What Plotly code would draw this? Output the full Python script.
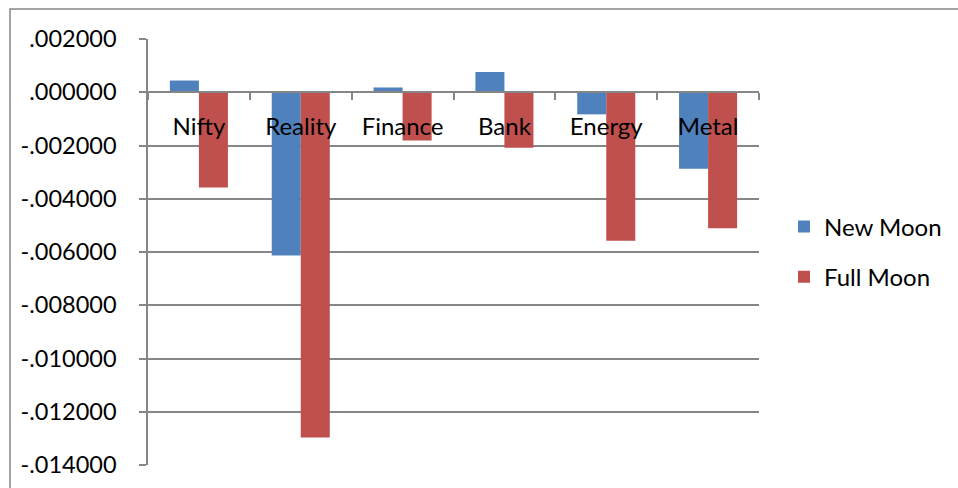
import plotly.graph_objects as go

categories = ["Nifty", "Reality", "Finance", "Bank", "Energy", "Metal"]
new_moon = [0.00044, -0.00613, 0.00018, 0.00076, -0.00083, -0.00287]
full_moon = [-0.00358, -0.01297, -0.00181, -0.00208, -0.00558, -0.00511]
y_tick_vals = [0.002, 0.0, -0.002, -0.004, -0.006, -0.008, -0.010, -0.012, -0.014]
y_tick_text = [".002000", ".000000", "-.002000", "-.004000", "-.006000",
               "-.008000", "-.010000", "-.012000", "-.014000"]

BLUE = "#4F81BD"
RED = "#C0504D"
GRID = "#868686"
FONT = "Lato"

fig = go.Figure()
fig.add_trace(go.Bar(x=categories, y=new_moon, name="New Moon",
                     marker=dict(color=BLUE, line=dict(width=0)),
                     legendgroup="a"))
fig.add_trace(go.Bar(x=categories, y=full_moon, name="Full Moon",
                     marker=dict(color=RED, line=dict(width=0)),
                     legendgroup="b"))

W, H = 958, 488
L, R, T, B = 148, 199, 39, 23
pw, ph = W - L - R, H - T - B
zero_pos = (0 - (-0.014)) / 0.016

fig.update_layout(
    width=W, height=H,
    margin=dict(l=L, r=R, t=T, b=B, pad=0, autoexpand=False),
    paper_bgcolor="white", plot_bgcolor="white",
    barmode="group", bargap=0.43, bargroupgap=0,
    font=dict(family=FONT, size=24, color="black"),
    showlegend=True,
    legend=dict(x=(784 - L) / pw, y=0.5, xanchor="left", yanchor="middle",
                traceorder="grouped", tracegroupgap=16,
                font=dict(family=FONT, size=24, color="black"),
                bgcolor="rgba(0,0,0,0)"),
    xaxis=dict(anchor="free", position=zero_pos, showline=True, automargin=False,
               linecolor=GRID, linewidth=1.5, ticks="outside",
               tickson="boundaries", ticklen=7, tickcolor=GRID, tickwidth=1.5,
               showgrid=False, zeroline=False, ticklabelstandoff=13,
               tickfont=dict(family=FONT, size=24, color="black")),
    yaxis=dict(range=[-0.014, 0.002], tickvals=y_tick_vals, ticktext=y_tick_text,
               showline=True, automargin=False,
               linecolor=GRID, linewidth=1.5, ticks="outside",
               ticklen=7, tickcolor=GRID, tickwidth=1.5,
               showgrid=True, gridcolor=GRID, gridwidth=1.5, zeroline=False,
               ticklabelstandoff=18,
               tickfont=dict(family=FONT, size=23.5, color="black")),
)

# outer chart border (runs off right and bottom edges like the reference)
fig.add_shape(type="rect", xref="paper", yref="paper",
              x0=(10 - L) / pw, x1=(W + 5 - L) / pw,
              y0=-(B + 5) / ph, y1=(H - B - 9) / ph,
              line=dict(color=GRID, width=1.5), layer="below")

fig.write_html("out.html")
